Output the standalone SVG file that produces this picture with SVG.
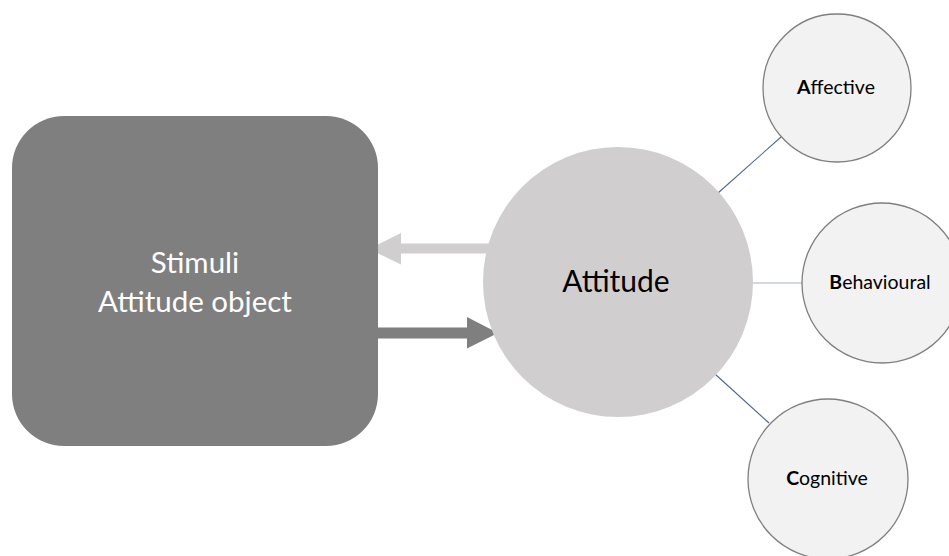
<svg xmlns="http://www.w3.org/2000/svg" width="949" height="556" viewBox="0 0 949 556">
  <style>
    text { font-family: Lato, "Open Sans", "Liberation Sans", sans-serif; text-anchor: middle; }
    .stim { fill: #ffffff; font-size: 29.5px; }
    .main { fill: #000000; font-size: 30px; }
    .facet { fill: #000000; font-size: 19.5px; }
    .facet tspan.k { font-weight: bold; }
    .small { fill: #f2f2f2; stroke: #7f7f7f; stroke-width: 1.3; }
    .link { stroke: #4f6684; stroke-width: 1.1; fill: none; }
    .link.flat { stroke: #a9b3be; }
  </style>

  <!-- connectors -->
  <g id="connectors">
    <!-- attitude to stimuli (light) -->
    <polygon points="490,243.5 401,243.5 401,233 369,249 401,264.5 401,253.5 490,253.5" fill="#d0cecf"/>
    <!-- stimuli to attitude (dark) -->
    <polygon points="378,327.5 467,327.5 467,317 498,333 467,348.5 467,338.5 378,338.5" fill="#7f7f7f"/>
    <line class="link" x1="718" y1="193" x2="781" y2="137"/>
    <line class="link flat" x1="753" y1="283" x2="802" y2="283"/>
    <line class="link" x1="715" y1="374" x2="769" y2="423"/>
  </g>

  <g id="stimuli">
    <rect x="12" y="116" width="366" height="330" rx="52" ry="52" fill="#7f7f7f"/>
    <text class="stim" x="195" y="273">Stimuli</text>
    <text class="stim" x="195" y="312">Attitude object</text>
  </g>

  <g id="attitude">
    <circle cx="618" cy="282" r="135" fill="#d0cecf"/>
    <text class="main" x="616" y="292">Attitude</text>
  </g>

  <g id="affective">
    <circle class="small" cx="837" cy="88" r="74"/>
    <text class="facet" x="836" y="94"><tspan class="k">A</tspan>ffective</text>
  </g>

  <g id="behavioural">
    <circle class="small" cx="882" cy="283" r="80"/>
    <text class="facet" x="880" y="289"><tspan class="k">B</tspan>ehavioural</text>
  </g>

  <g id="cognitive">
    <circle class="small" cx="828" cy="479" r="80"/>
    <text class="facet" x="827" y="485"><tspan class="k">C</tspan>ognitive</text>
  </g>
</svg>
